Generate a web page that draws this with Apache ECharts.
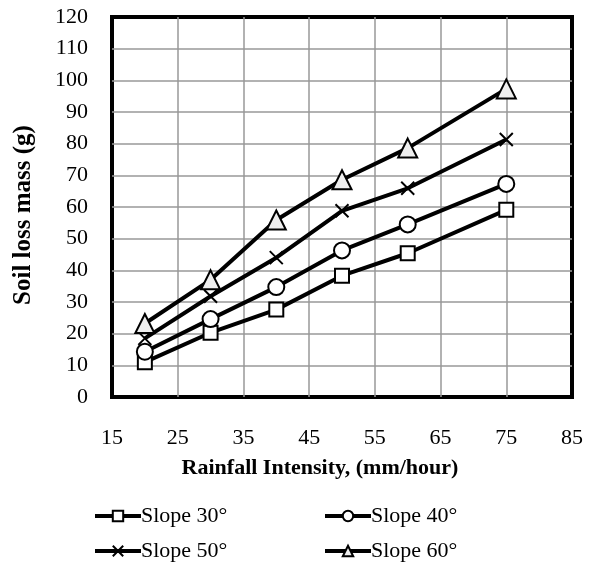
<!DOCTYPE html>
<html>
<head>
<meta charset="utf-8">
<script src="https://cdn.jsdelivr.net/npm/echarts@6/dist/echarts.min.js"></script>
<style>
  html, body { margin: 0; padding: 0; background: #fff; }
  #chart { width: 597px; height: 569px; }
</style>
</head>
<body>
<div id="chart"></div>
<script>
// rainfall intensity (mm/hour)
const intensity = [20, 30, 40, 50, 60, 75];
// soil loss mass (g) per slope
const slope30 = [11, 20.3, 27.6, 38.3, 45.4, 59.1];
const slope40 = [14.3, 24.6, 34.7, 46.3, 54.5, 67.3];
const slope50 = [18.5, 31.8, 44, 58.8, 65.9, 81.3];
const slope60 = [23.2, 37, 55.9, 68.6, 78.6, 97.3];
const seriesNames = ['Slope 30°', 'Slope 40°', 'Slope 50°', 'Slope 60°'];

const chart = echarts.init(document.getElementById('chart'));

const font = 'Liberation Serif, Times New Roman, serif';
const crossPath = 'path://M0,0L10,10M0,10L10,0';

const mk = (name, values, symbol, size, fill) => ({
    name: name,
    type: 'line',
    data: intensity.map((x, i) => [x, values[i]]),
    symbol: symbol,
    symbolSize: size,
    showAllSymbol: true,
    lineStyle: { color: '#000', width: 4 },
    itemStyle: {
        color: fill,
        borderColor: '#000',
        borderWidth: 2
    },
    emphasis: { disabled: true },
    z: 3
});

const legendBase = {
    itemWidth: 46,
    itemHeight: 13,
    itemGap: 0,
    lineStyle: { width: 4 },
    textStyle: { fontFamily: font, fontSize: 22, color: '#000', padding: [0, 0, 0, -5] }
};

const option = {
    animation: false,
    grid: {
        left: 112,
        right: 25,
        top: 17,
        bottom: 172,
        show: true,
        borderColor: '#000',
        borderWidth: 4,
        backgroundColor: 'transparent'
    },
    legend: [
        Object.assign({ left: 88, top: 500, data: [seriesNames[0]] }, legendBase),
        Object.assign({ left: 318, top: 500, data: [seriesNames[1]] }, legendBase),
        Object.assign({ left: 88, top: 535, data: [seriesNames[2]] }, legendBase),
        Object.assign({ left: 318, top: 535, data: [seriesNames[3]] }, legendBase)
    ],
    xAxis: {
        type: 'value',
        min: 15,
        max: 85,
        interval: 10,
        name: 'Rainfall Intensity, (mm/hour)',
        nameLocation: 'middle',
        nameGap: 60,
        nameTextStyle: {
            fontFamily: font, fontSize: 22, fontWeight: 'bold', color: '#000',
            padding: [0, 44, 0, 0]
        },
        axisLine: { show: false },
        axisTick: { show: false },
        axisLabel: { fontFamily: font, fontSize: 22, color: '#000', margin: 30 },
        splitLine: {
            show: true, showMinLine: false, showMaxLine: false,
            lineStyle: { color: '#999', width: 1.5 }
        }
    },
    yAxis: {
        type: 'value',
        min: 0,
        max: 120,
        interval: 10,
        name: 'Soil loss mass (g)',
        nameLocation: 'middle',
        nameGap: 76,
        nameTextStyle: {
            fontFamily: font, fontSize: 25, fontWeight: 'bold', color: '#000',
            padding: [0, 16, 0, 0]
        },
        axisLine: { show: false },
        axisTick: { show: false },
        axisLabel: { fontFamily: font, fontSize: 22, color: '#000', margin: 24 },
        splitLine: {
            show: true, showMinLine: false, showMaxLine: false,
            lineStyle: { color: '#999', width: 1.5 }
        }
    },
    series: [
        mk(seriesNames[0], slope30, 'rect', 14, '#fff'),
        mk(seriesNames[1], slope40, 'circle', 16, '#fff'),
        Object.assign(mk(seriesNames[2], slope50, crossPath, 13, 'none'), {
            itemStyle: { color: 'none', borderColor: '#000', borderWidth: 2 }
        }),
        mk(seriesNames[3], slope60, 'triangle', 19, '#eee')
    ]
};

chart.setOption(option);
</script>
</body>
</html>
